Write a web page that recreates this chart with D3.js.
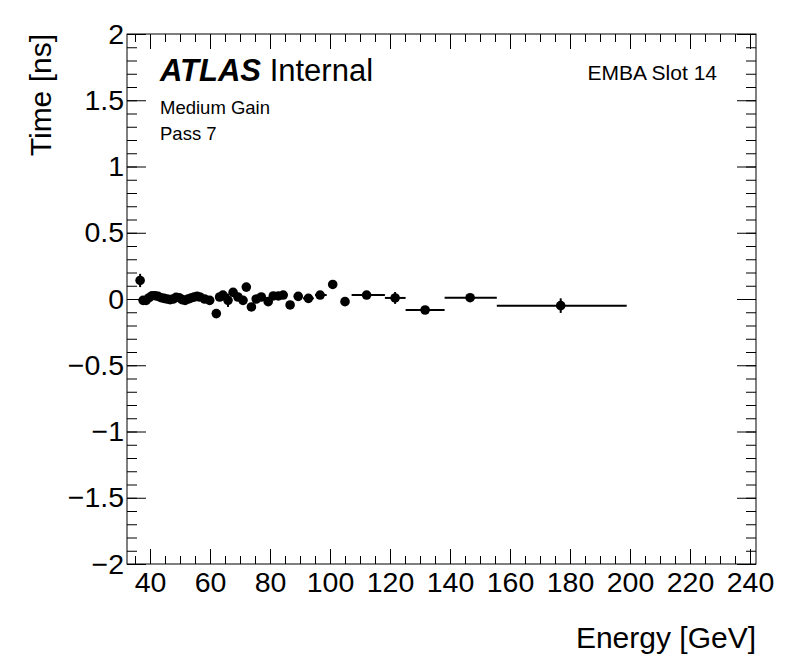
<!DOCTYPE html>
<html>
<head>
<meta charset="utf-8">
<script src="https://cdn.jsdelivr.net/npm/d3@7"></script>
<style>
  body { margin: 0; background: #fff; }
  text { font-family: "Liberation Sans", Arial, Helvetica, sans-serif; fill: #000; }
</style>
</head>
<body>
<div id="chart"></div>
<script>
// mean energy of each bin, bin edges, time and its error
const energy = [36.7, 37.7, 38.7, 39.7, 40.7, 41.7, 42.7, 43.7, 44.7, 45.7,
  46.7, 47.7, 48.7, 49.7, 50.7, 51.7, 52.7, 53.7, 54.7, 55.7,
  56.6, 58.2, 59.9, 62.1, 63.2, 64.3, 66.0, 67.7, 69.3, 71.0,
  72.1, 73.8, 75.4, 77.1, 79.4, 81.1, 82.8, 84.4, 86.7, 89.4,
  92.8, 96.7, 100.9, 105.0, 112.2, 121.7, 131.7, 146.7, 176.9];
const energyLo = [36.2, 37.2, 38.2, 39.2, 40.2, 41.2, 42.2, 43.2, 44.2, 45.2,
  46.2, 47.2, 48.2, 49.2, 50.2, 51.2, 52.2, 53.2, 54.2, 55.2,
  56.0, 57.5, 59.2, 61.4, 62.5, 63.6, 65.2, 66.9, 68.5, 70.3,
  71.4, 73.0, 74.6, 76.2, 78.4, 80.2, 81.9, 83.4, 85.6, 88.0,
  91.0, 95.0, 99.9, 104.0, 107.2, 118.3, 125.2, 138.2, 155.6];
const energyHi = [37.2, 38.2, 39.2, 40.2, 41.2, 42.2, 43.2, 44.2, 45.2, 46.2,
  47.2, 48.2, 49.2, 50.2, 51.2, 52.2, 53.2, 54.2, 55.2, 56.0,
  57.4, 59.0, 60.6, 62.8, 63.9, 65.0, 66.8, 68.5, 70.1, 71.7,
  72.8, 74.6, 76.2, 78.0, 80.4, 82.0, 83.7, 85.4, 87.8, 90.8,
  94.6, 98.9, 101.9, 106.0, 118.3, 125.2, 138.2, 155.6, 198.9];
const time = [0.14, -0.01, -0.01, 0.01, 0.025, 0.025, 0.02, 0.01, 0.005, 0.0,
  -0.005, 0.0, 0.012, 0.01, -0.005, -0.01, 0.0, 0.008, 0.015, 0.02,
  0.015, 0.0, -0.01, -0.11, 0.015, 0.03, -0.01, 0.05, 0.015, -0.01,
  0.09, -0.06, 0.0, 0.015, -0.02, 0.023, 0.023, 0.03, -0.045, 0.02,
  0.005, 0.03, 0.11, -0.02, 0.03, 0.008, -0.083, 0.01, -0.05];
const timeErr = [0.05, 0.015, 0.015, 0.015, 0.015, 0.015, 0.015, 0.015, 0.015, 0.015,
  0.015, 0.015, 0.015, 0.015, 0.015, 0.015, 0.015, 0.015, 0.02, 0.02,
  0.02, 0.02, 0.02, 0.03, 0.02, 0.02, 0.05, 0.02, 0.02, 0.02,
  0.02, 0.02, 0.02, 0.03, 0.02, 0.02, 0.02, 0.03, 0.02, 0.025,
  0.03, 0.025, 0.02, 0.02, 0.02, 0.045, 0.02, 0.02, 0.055];

const xMajor = [40, 60, 80, 100, 120, 140, 160, 180, 200, 220, 240];
const xMinor = d3.range(35, 241, 5);
const yMajor = [-2, -1.5, -1, -0.5, 0, 0.5, 1, 1.5, 2];
const yMinor = d3.range(-20, 21).map((d) => d / 10);

const width = 796, height = 672;
const margin = { top: 34, right: 40, bottom: 108, left: 127 };

const svg = d3.select("#chart").append("svg")
  .attr("width", width)
  .attr("height", height);

svg.append("rect").attr("width", width).attr("height", height).attr("fill", "#fff");

const x = d3.scaleLinear()
  .domain([32.33, 242])
  .range([margin.left, width - margin.right]);

const y = d3.scaleLinear()
  .domain([-2, 2])
  .range([height - margin.bottom, margin.top]);

const fmt = d3.format("~g");

// axes: ticks drawn inward on all four sides
function styleAxis(g) {
  g.select(".domain").remove();
  g.selectAll(".tick line").attr("stroke", "#000").attr("stroke-width", 1);
}

svg.append("g")
  .attr("transform", `translate(0,${y(-2)})`)
  .call(d3.axisBottom(x).tickValues(xMinor).tickSize(-8).tickFormat(""))
  .call(styleAxis);
svg.append("g")
  .attr("transform", `translate(0,${y(-2)})`)
  .call(d3.axisBottom(x).tickValues(xMajor).tickSize(-15).tickPadding(8).tickFormat(fmt))
  .call(styleAxis)
  .call((g) => g.selectAll("text").attr("font-size", 28.5).attr("font-family", null));
svg.append("g")
  .attr("transform", `translate(0,${y(2)})`)
  .call(d3.axisTop(x).tickValues(xMinor).tickSize(-8).tickFormat(""))
  .call(styleAxis);
svg.append("g")
  .attr("transform", `translate(0,${y(2)})`)
  .call(d3.axisTop(x).tickValues(xMajor).tickSize(-15).tickFormat(""))
  .call(styleAxis);

svg.append("g")
  .attr("transform", `translate(${x.range()[0]},0)`)
  .call(d3.axisLeft(y).tickValues(yMinor).tickSize(-10).tickFormat(""))
  .call(styleAxis);
svg.append("g")
  .attr("transform", `translate(${x.range()[0]},0)`)
  .call(d3.axisLeft(y).tickValues(yMajor).tickSize(-19).tickPadding(3).tickFormat(fmt))
  .call(styleAxis)
  .call((g) => g.selectAll("text").attr("font-size", 28.5).attr("font-family", null));
svg.append("g")
  .attr("transform", `translate(${x.range()[1]},0)`)
  .call(d3.axisRight(y).tickValues(yMinor).tickSize(-10).tickFormat(""))
  .call(styleAxis);
svg.append("g")
  .attr("transform", `translate(${x.range()[1]},0)`)
  .call(d3.axisRight(y).tickValues(yMajor).tickSize(-19).tickFormat(""))
  .call(styleAxis);

// frame
svg.append("rect")
  .attr("x", x.range()[0])
  .attr("y", y(2))
  .attr("width", x.range()[1] - x.range()[0])
  .attr("height", y(-2) - y(2))
  .attr("fill", "none")
  .attr("stroke", "#000")
  .attr("stroke-width", 1);

// data points with error bars
const pts = energy.map((e, i) => ({
  e, lo: energyLo[i], hi: energyHi[i], t: time[i], err: timeErr[i],
}));

const marks = svg.append("g");
marks.selectAll(".xerr")
  .data(pts)
  .enter()
  .append("line")
  .attr("class", "xerr")
  .attr("x1", (d) => x(d.lo))
  .attr("x2", (d) => x(d.hi))
  .attr("y1", (d) => y(d.t))
  .attr("y2", (d) => y(d.t))
  .attr("stroke", "#000")
  .attr("stroke-width", 2);
marks.selectAll(".yerr")
  .data(pts)
  .enter()
  .append("line")
  .attr("class", "yerr")
  .attr("x1", (d) => x(d.e))
  .attr("x2", (d) => x(d.e))
  .attr("y1", (d) => y(d.t - d.err))
  .attr("y2", (d) => y(d.t + d.err))
  .attr("stroke", "#000")
  .attr("stroke-width", 2);
marks.selectAll("circle")
  .data(pts)
  .enter()
  .append("circle")
  .attr("cx", (d) => x(d.e))
  .attr("cy", (d) => y(d.t))
  .attr("r", 4.8)
  .attr("fill", "#000");

// axis titles
svg.append("text")
  .attr("x", x.range()[1])
  .attr("y", 648)
  .attr("text-anchor", "end")
  .attr("font-size", 30)
  .text("Energy [GeV]");
svg.append("text")
  .attr("transform", `translate(51,${y(2)}) rotate(-90)`)
  .attr("text-anchor", "end")
  .attr("font-size", 30)
  .text("Time [ns]");

// labels
const atlas = svg.append("text")
  .attr("x", 160)
  .attr("y", 81)
  .attr("font-size", 31);
atlas.append("tspan")
  .attr("font-weight", "bold")
  .attr("font-style", "italic")
  .text("ATLAS");
atlas.append("tspan").text(" Internal");

svg.append("text")
  .attr("x", 160)
  .attr("y", 114)
  .attr("font-size", 18.5)
  .text("Medium Gain");
svg.append("text")
  .attr("x", 160)
  .attr("y", 140)
  .attr("font-size", 18.5)
  .text("Pass 7");
svg.append("text")
  .attr("x", 717)
  .attr("y", 80)
  .attr("text-anchor", "end")
  .attr("font-size", 21)
  .text("EMBA Slot 14");
</script>
</body>
</html>
